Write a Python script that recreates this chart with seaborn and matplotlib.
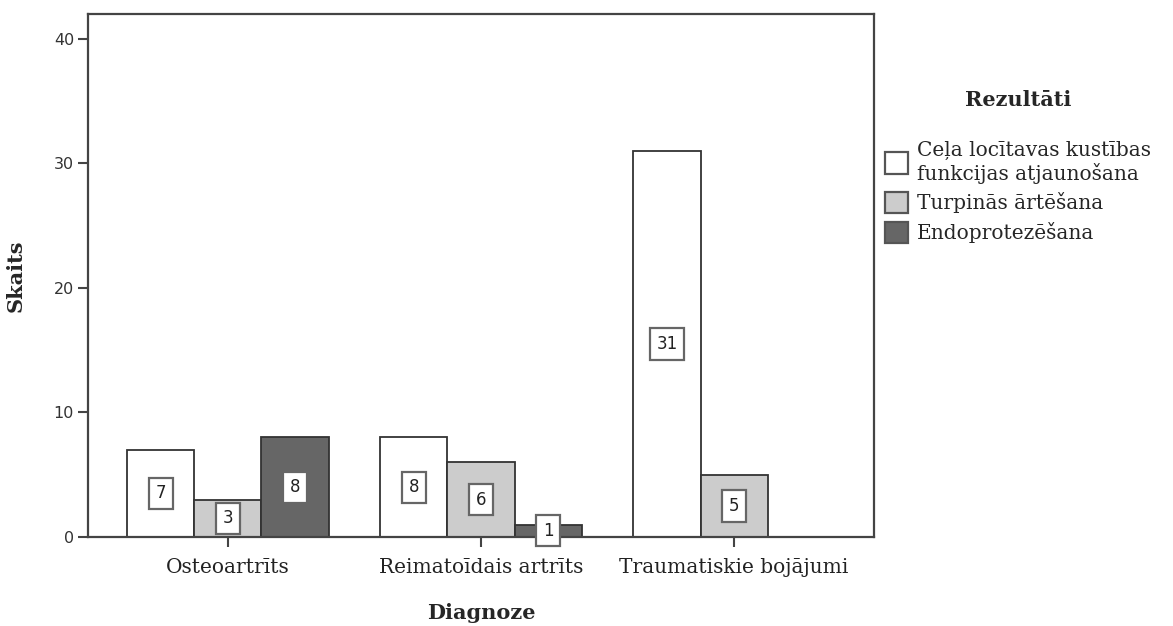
import seaborn as sns
import matplotlib.pyplot as plt
import pandas as pd
from matplotlib.patches import Rectangle

# data
diagnoses = ['Osteoartrīts', 'Reimatoīdais artrīts', 'Traumatiskie bojājumi']
results = ['Ceļa locītavas kustības\nfunkcijas atjaunošana', 'Turpinās ārtēšana', 'Endoprotezēšana']
counts_restore = [7, 8, 31]
counts_continue = [3, 6, 5]
counts_endo = [8, 1, 0]
colors = ['#ffffff', '#cccccc', '#666666']

rows = []
for res, vals in zip(results, [counts_restore, counts_continue, counts_endo]):
    for diag, v in zip(diagnoses, vals):
        rows.append({'Diagnoze': diag, 'Rezultāti': res, 'Skaits': v})
df = pd.DataFrame(rows)

sns.set_style('white')
plt.rcParams['font.family'] = ['DejaVu Serif']

fig = plt.figure(figsize=(11.73, 6.26), dpi=100)
ax = fig.add_axes([88 / 1173, 1 - 537 / 626, (874 - 88) / 1173, (537 - 14) / 626])

sns.barplot(data=df, x='Diagnoze', y='Skaits', hue='Rezultāti', order=diagnoses,
            hue_order=results, palette=colors, width=0.795, edgecolor='#333333',
            linewidth=1.3, ax=ax, legend=False)

ax.set_xlim(-0.553, 2.553)
ax.set_ylim(0, 42)
ax.set_yticks([0, 10, 20, 30, 40])

for s in ax.spines.values():
    s.set_color('#444444')
    s.set_linewidth(1.6)

ax.tick_params(axis='y', direction='out', length=7, width=1.5, color='#444444',
               labelsize=11.5, labelcolor='#333333', left=True, pad=3)
ax.tick_params(axis='x', direction='out', length=7, width=1.5, color='#444444',
               labelsize=14.5, labelcolor='#222222', bottom=True, pad=8)
for lab in ax.get_yticklabels():
    lab.set_fontfamily('DejaVu Sans')

ax.set_xlabel('Diagnoze', fontsize=15, fontweight='bold', labelpad=19)
ax.set_ylabel('Skaits', fontsize=15, fontweight='bold', labelpad=20)

# value labels in the middle of each bar
for cont in ax.containers:
    for bar in cont:
        h = bar.get_height()
        if h <= 0:
            continue
        ax.text(bar.get_x() + bar.get_width() / 2, h / 2, f'{int(h)}',
                ha='center', va='center', fontsize=12, family='DejaVu Sans',
                color='#222222',
                bbox=dict(boxstyle='square,pad=0.4', facecolor='white',
                          edgecolor='#666666', linewidth=1.6))

handles = [Rectangle((0, 0), 1, 1, facecolor=c, edgecolor='#555555', linewidth=1.6)
           for c in colors]
leg = fig.legend(handles, results, title='Rezultāti', loc='upper left',
                 bbox_to_anchor=(885 / 1173, 1 - 90 / 626), frameon=False,
                 fontsize=14.5, handlelength=1.15, handleheight=1.25, handletextpad=0.45,
                 labelspacing=0.4, borderaxespad=0, borderpad=0)
leg.get_title().set_fontweight('bold')
leg.get_title().set_fontsize(15)
leg._legend_box.sep = 22

fig.savefig('out.png', dpi=100)
